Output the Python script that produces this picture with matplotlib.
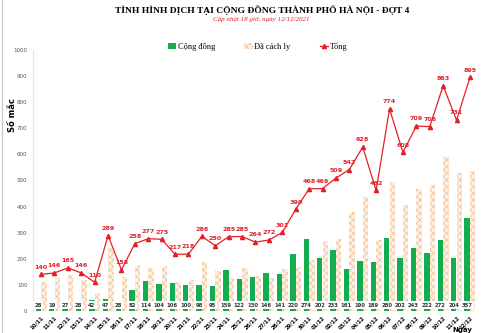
import numpy as np
import matplotlib.pyplot as plt
from matplotlib.patches import Patch
from matplotlib.lines import Line2D

# Dữ liệu
ngay = ['10/11', '11/11', '12/11', '13/11', '14/11', '15/11', '16/11', '17/11', '18/11',
        '19/11', '20/11', '21/11', '22/11', '23/11', '24/11', '25/11', '26/11', '27/11',
        '28/11', '29/11', '30/11', '01/12', '02/12', '03/12', '04/12', '05/12', '06/12',
        '07/12', '08/12', '09/12', '10/12', '11/12', '12/12']
cong_dong = [28, 19, 27, 28, 42, 47, 28, 82, 114, 104, 106, 100, 98, 95, 159, 122, 130,
             146, 141, 220, 274, 202, 233, 161, 190, 189, 280, 202, 243, 222, 272, 204, 357]
tong = [140, 146, 165, 146, 110, 289, 158, 258, 277, 275, 217, 218, 286, 250, 285, 285, 264,
        272, 301, 390, 468, 469, 509, 542, 628, 462, 774, 608, 709, 706, 863, 731, 895]
cach_ly = [t - c for t, c in zip(tong, cong_dong)]

SERIF = ['Liberation Serif', 'DejaVu Serif']
GREEN = '#13ad4f'
RED = '#e3202a'
plt.rcParams['hatch.linewidth'] = 0.5

fig = plt.figure(figsize=(5, 3.33), dpi=100)
ax = fig.add_axes([0.066, 0.066, 0.89, 0.784])

x = np.arange(len(ngay))
w = 0.4
ax.bar(x - 0.21, cong_dong, w, color=GREEN, zorder=2)
ax.bar(x + 0.21, cach_ly, w, facecolor='#fdf1e4', edgecolor='#f3c096',
       hatch='xxxxx', linewidth=0, zorder=2)
ax.plot(x, tong, color=RED, lw=0.9, marker='^', ms=3, zorder=3)

for i, v in enumerate(tong):
    ax.text(i, v + 18, str(v), ha='center', va='bottom', fontsize=4.6,
            color=RED, fontweight='bold', zorder=4)
for i, v in enumerate(cong_dong):
    ax.text(i - 0.21, 22, str(v), ha='center', va='center', fontsize=3.8,
            fontweight='bold', color='#333333', zorder=4,
            bbox=dict(boxstyle='square,pad=0.25', fc='white', ec='none'))

ax.set_xlim(-0.6, len(ngay) - 0.4)
ax.set_ylim(0, 1000)
ax.set_yticks(range(0, 1001, 100))
ax.tick_params(axis='y', labelsize=4, colors='#555555', length=0, pad=4)
ax.set_xticks(x)
ax.set_xticklabels(ngay, rotation=45, ha='right', fontsize=3.8, fontweight='bold',
                   rotation_mode='anchor')
ax.tick_params(axis='x', length=0, pad=3)
for s in ['top', 'right', 'bottom']:
    ax.spines[s].set_visible(False)
ax.spines['left'].set_color('#e6e6e6')

ax.set_ylabel('Số mắc', fontsize=6, fontweight='bold')
ax.yaxis.set_label_coords(-0.036, 0.75)
fig.text(0.945, 0.0, 'Ngày', fontsize=5, fontweight='bold', ha='right', va='bottom')

fig.text(0.525, 0.968, 'TÌNH HÌNH DỊCH TẠI CỘNG ĐỒNG THÀNH PHỐ HÀ NỘI - ĐỢT 4',
         ha='center', va='center', fontsize=6.8, fontweight='bold', family=SERIF)
fig.text(0.523, 0.94, 'Cập nhật 18 giờ, ngày 12/12/2021', ha='center', va='center',
         fontsize=5, style='italic', color=RED, family=SERIF)

handles = [Patch(facecolor=GREEN),
           Patch(facecolor='#fdf1e4', edgecolor='#f3c096', hatch='xxxxx', linewidth=0),
           Line2D([], [], color=RED, marker='^', ms=3, lw=0.9)]
fig.legend(handles, ['Cộng đồng', 'Đã cách ly', 'Tổng'], loc='center',
           bbox_to_anchor=(0.515, 0.86), ncol=3, frameon=False,
           prop={'family': SERIF, 'size': 6}, handlelength=1.0, handleheight=0.6,
           handletextpad=0.2, columnspacing=3.5)

# viền xám bên trái
fig.add_artist(Line2D([0.004, 0.004], [0, 1], color='#cccccc', lw=1))

plt.savefig('out.png', dpi=100)
